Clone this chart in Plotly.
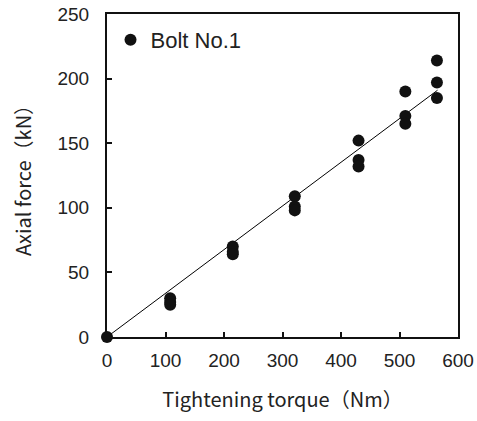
import plotly.graph_objects as go

torque = [0, 108, 108, 108, 215, 215, 215, 321, 321, 321, 430, 430, 430, 510, 510, 510, 564, 564, 564]
force = [0, 30, 27, 25, 70, 66, 64, 109, 101, 98, 152, 137, 132, 190, 171, 165, 214, 197, 185]

fit_x = [0, 565]
fit_y = [0, 191]

x_ticks = [0, 100, 200, 300, 400, 500, 600]
y_ticks = [0, 50, 100, 150, 200, 250]

fig = go.Figure()
fig.add_trace(go.Scatter(x=fit_x, y=fit_y, mode="lines", line=dict(color="black", width=1),
                         showlegend=False, hoverinfo="skip", cliponaxis=False))
fig.add_trace(go.Scatter(x=torque, y=force, mode="markers", name="Bolt No.1",
                         marker=dict(color="#111111", size=12), cliponaxis=False))

tfont = dict(family="Liberation Sans, Arial, sans-serif", size=19, color="#222222")
titfont = dict(family="Noto Sans CJK JP, sans-serif", size=20, color="#222222")

fig.update_layout(
    width=477, height=421,
    margin=dict(l=107, r=19, t=14, b=84),
    plot_bgcolor="white", paper_bgcolor="white",
    xaxis=dict(range=[0, 600], tickvals=x_ticks, ticks="inside", ticklen=5, tickwidth=2,
               tickcolor="#111111", showline=True, linecolor="#111111", linewidth=2, mirror=True,
               showgrid=False, zeroline=False, tickfont=tfont, ticklabelstandoff=5,
               automargin=False,
               title=dict(text="Tightening torque（Nm）", font=titfont, standoff=23)),
    yaxis=dict(range=[0, 250], tickvals=y_ticks, ticks="inside", ticklen=5, tickwidth=2,
               tickcolor="#111111", showline=True, linecolor="#111111", linewidth=2, mirror=True,
               showgrid=False, zeroline=False, tickfont=tfont, ticklabelstandoff=12,
               automargin=False,
               title=dict(text="Axial force（kN）", font=titfont, standoff=20)),
    legend=dict(x=0.01, y=0.985, xanchor="left", yanchor="top", bgcolor="rgba(0,0,0,0)",
                font=dict(family="Liberation Sans, Arial, sans-serif", size=22, color="#222222"),
                itemwidth=30),
)

fig.write_html("out.html")
